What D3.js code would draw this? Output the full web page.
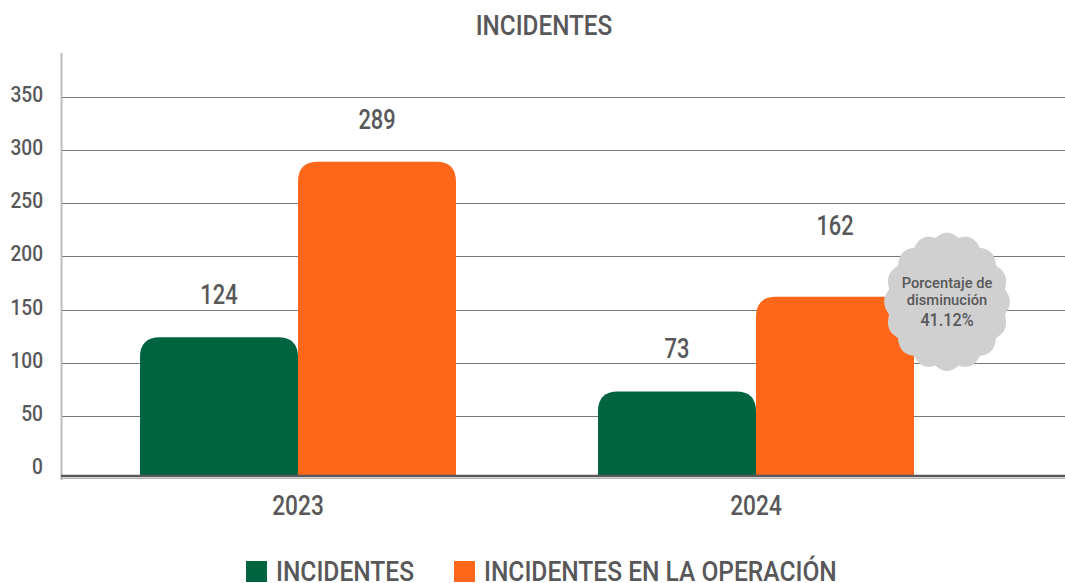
<!DOCTYPE html>
<html>
<head>
<meta charset="utf-8">
<script src="https://cdn.jsdelivr.net/npm/d3@7"></script>
<style>
  html, body { margin: 0; padding: 0; background: #fff; }
  svg { display: block; }
  text { font-family: Roboto, "Noto Sans", sans-serif; font-weight: 500; fill: #58585a; }
</style>
</head>
<body>
<svg id="chart" width="1065" height="583"></svg>
<script>
/*** Chart data ***/
const years = ["2023", "2024"];
const seriesKeys = ["inc", "op"];
const seriesNames = ["INCIDENTES", "INCIDENTES EN LA OPERACIÓN"];
const seriesColors = ["#016440", "#fe661a"];
const incidentes = [124, 73];
const incidentesOperacion = [289, 162];
const yTicks = [0, 50, 100, 150, 200, 250, 300, 350];
const badgeLines = ["Porcentaje de", "disminución", "41.12%"];

/*** Layout ***/
const svg = d3.select("#chart");
const plot = {left: 61, right: 1065, top: 53, zeroY: 469, topY: 97, baseline: 476};

// Scales
const y = d3.scaleLinear().domain([0, 350]).range([plot.zeroY, plot.topY]);
const x = d3.scaleBand().domain(years).range([69, 985]).paddingInner(0.31).paddingOuter(0.155);
const xs = d3.scaleBand().domain(seriesKeys).range([0, x.bandwidth()]);
const color = d3.scaleOrdinal().domain(seriesKeys).range(seriesColors);

// The source font is a narrow DIN, so squeeze Roboto horizontally
function place(px, py, sx) {
  return "translate(" + px + "," + py + ") scale(" + sx + ",1)";
}

// Flatten into bar records
let bars = [];
years.forEach(function(yr, i) {
  bars.push({year: yr, key: "inc", value: incidentes[i]});
  bars.push({year: yr, key: "op", value: incidentesOperacion[i]});
});

// Title
svg.append("text")
    .attr("transform", place(544, 35, 0.9))
    .attr("text-anchor", "middle")
    .style("font-size", "27px")
    .text("INCIDENTES");

// Gridlines
svg.append("g").selectAll("line")
    .data(yTicks.filter(t => t > 0)).enter()
    .append("line")
        .attr("x1", plot.left).attr("x2", plot.right)
        .attr("y1", d => Math.round(y(d)) + 0.5).attr("y2", d => Math.round(y(d)) + 0.5)
        .attr("stroke", "#777").attr("stroke-width", 1.2);

// Y axis line + labels
svg.append("line")
    .attr("x1", plot.left + 0.5).attr("x2", plot.left + 0.5)
    .attr("y1", plot.top).attr("y2", plot.baseline + 4)
    .attr("stroke", "#bdbdbd").attr("stroke-width", 2);
svg.append("g").selectAll("text")
    .data(yTicks).enter()
    .append("text")
        .attr("transform", d => place(43, y(d) + 5, 0.87))
        .attr("text-anchor", "end")
        .style("font-size", "22px")
        .text(d => d);

// Bars: rounded top corners, bottom sits on the baseline
function barPath(d) {
  let x0 = x(d.year) + xs(d.key), w = xs.bandwidth();
  let top = y(d.value), bot = plot.baseline, r = 20;
  return "M" + x0 + "," + bot +
         "V" + (top + r) +
         "Q" + x0 + "," + top + " " + (x0 + r) + "," + top +
         "H" + (x0 + w - r) +
         "Q" + (x0 + w) + "," + top + " " + (x0 + w) + "," + (top + r) +
         "V" + bot + "Z";
}
svg.append("g").selectAll("path")
    .data(bars).enter()
    .append("path")
        .attr("d", barPath)
        .attr("fill", d => color(d.key));

// Baseline
svg.append("line")
    .attr("x1", plot.left).attr("x2", plot.right)
    .attr("y1", plot.baseline).attr("y2", plot.baseline)
    .attr("stroke", "#58585a").attr("stroke-width", 2.5);
svg.append("line")
    .attr("x1", plot.left).attr("x2", plot.right)
    .attr("y1", plot.baseline + 2.5).attr("y2", plot.baseline + 2.5)
    .attr("stroke", "#b5b5b5").attr("stroke-width", 1);

// X labels
svg.append("g").selectAll("text")
    .data(years).enter()
    .append("text")
        .attr("transform", d => place(x(d) + x.bandwidth() / 2, 515, 0.81))
        .attr("text-anchor", "middle")
        .style("font-size", "28px")
        .text(d => d);

// Badge sits to the right of the 2024 operation bar
const badgeBar = bars.find(d => d.year == "2024" && d.key == "op");

// Value labels (the one under the badge is lifted clear of it)
svg.append("g").selectAll("text")
    .data(bars).enter()
    .append("text")
        .attr("transform", d => place(x(d.year) + xs(d.key) + xs.bandwidth() / 2,
                                      y(d.value) - (d === badgeBar ? 62 : 33), 0.81))
        .attr("text-anchor", "middle")
        .style("font-size", "27px")
        .text(d => d.value);

// Scalloped badge
const bcx = x(badgeBar.year) + xs(badgeBar.key) + xs.bandwidth() + 33;
const bcy = y(badgeBar.value) + 5;
const lobes = 16, rx = 59, ry = 65, amp = 4;
let pts = d3.range(0, 720).map(function(i) {
  let a = i / 720 * 2 * Math.PI;
  let f = 1 + amp / 62 * Math.abs(Math.cos(lobes * a / 2));
  return [bcx + rx * f * Math.cos(a), bcy + ry * f * Math.sin(a)];
});
svg.append("path")
    .attr("d", d3.line().curve(d3.curveLinearClosed)(pts))
    .attr("fill", "#d0d0d0");
const badgeDy = [-14, 3.5, 24.5];
svg.append("g").selectAll("text")
    .data(badgeLines).enter()
    .append("text")
        .attr("transform", (d, i) => place(bcx, bcy + badgeDy[i], i == 2 ? 0.9 : 0.95))
        .attr("text-anchor", "middle")
        .style("font-size", (d, i) => i == 2 ? "18px" : "15.5px")
        .text(d => d);

// Legend
const legendX = [246, 454];
const leg = svg.append("g").selectAll("g")
    .data(seriesKeys).enter()
    .append("g")
        .attr("transform", (d, i) => "translate(" + legendX[i] + ",561)");
leg.append("rect")
    .attr("width", 21).attr("height", 21)
    .attr("fill", d => color(d));
leg.append("text")
    .attr("transform", place(30, 20, 0.91))
    .style("font-size", "27px")
    .text((d, i) => seriesNames[i]);
</script>
</body>
</html>
